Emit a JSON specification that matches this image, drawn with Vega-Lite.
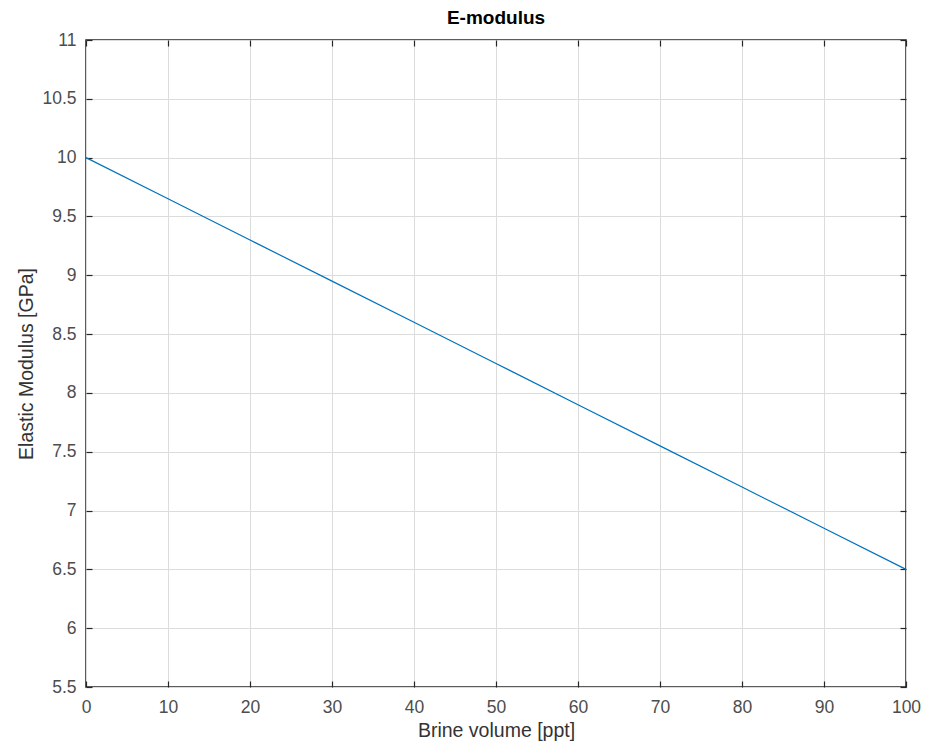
{
  "$schema": "https://vega.github.io/schema/vega-lite/v6.json",
  "width": 820,
  "height": 647,
  "autosize": {"type": "none"},
  "padding": {"left": 86, "top": 40, "right": 19, "bottom": 62},
  "background": "white",
  "title": {"text": "E-modulus", "font": "Liberation Sans", "fontSize": 19, "fontWeight": "bold", "color": "#000000", "offset": 3},
  "config": {
    "view": {"stroke": "#262626", "strokeWidth": 1.5},
    "axis": {
      "labelFont": "Liberation Sans", "labelFontSize": 17.5, "labelColor": "#4d4d4d",
      "titleFont": "Liberation Sans", "titleFontSize": 19.5, "titleColor": "#333333", "titleFontWeight": "normal",
      "domain": false, "gridColor": "#dcdcdc", "gridWidth": 1, "labelFlush": false, "labelOverlap": false,
      "tickColor": "#262626", "tickSize": -6, "tickWidth": 1.2
    }
  },
  "data": {"values": [
    {"v": 0, "E": 10}, {"v": 10, "E": 9.65}, {"v": 20, "E": 9.3}, {"v": 30, "E": 8.95},
    {"v": 40, "E": 8.6}, {"v": 50, "E": 8.25}, {"v": 60, "E": 7.9}, {"v": 70, "E": 7.55},
    {"v": 80, "E": 7.2}, {"v": 90, "E": 6.85}, {"v": 100, "E": 6.5}
  ]},
  "layer": [
    {
      "mark": {"type": "line", "color": "#0072BD", "strokeWidth": 1.2},
      "encoding": {
        "x": {"field": "v", "type": "quantitative", "scale": {"domain": [0, 100], "nice": false},
          "axis": {"values": [0,10,20,30,40,50,60,70,80,90,100], "format": "d", "title": "Brine volume [ppt]", "labelPadding": 17, "titlePadding": 6}},
        "y": {"field": "E", "type": "quantitative", "scale": {"domain": [5.5, 11], "nice": false, "zero": false},
          "axis": {"values": [5.5,6,6.5,7,7.5,8,8.5,9,9.5,10,10.5,11], "format": "~g", "title": "Elastic Modulus [GPa]", "labelPadding": 16, "titlePadding": 5}}
      }
    },
    {
      "mark": {"type": "line", "opacity": 0},
      "encoding": {
        "x": {"field": "v", "type": "quantitative", "axis": {"orient": "top", "values": [0,10,20,30,40,50,60,70,80,90,100], "labels": false, "grid": false, "title": null}},
        "y": {"field": "E", "type": "quantitative", "axis": {"orient": "right", "values": [5.5,6,6.5,7,7.5,8,8.5,9,9.5,10,10.5,11], "labels": false, "grid": false, "title": null}}
      }
    }
  ],
  "resolve": {"axis": {"x": "independent", "y": "independent"}}
}
